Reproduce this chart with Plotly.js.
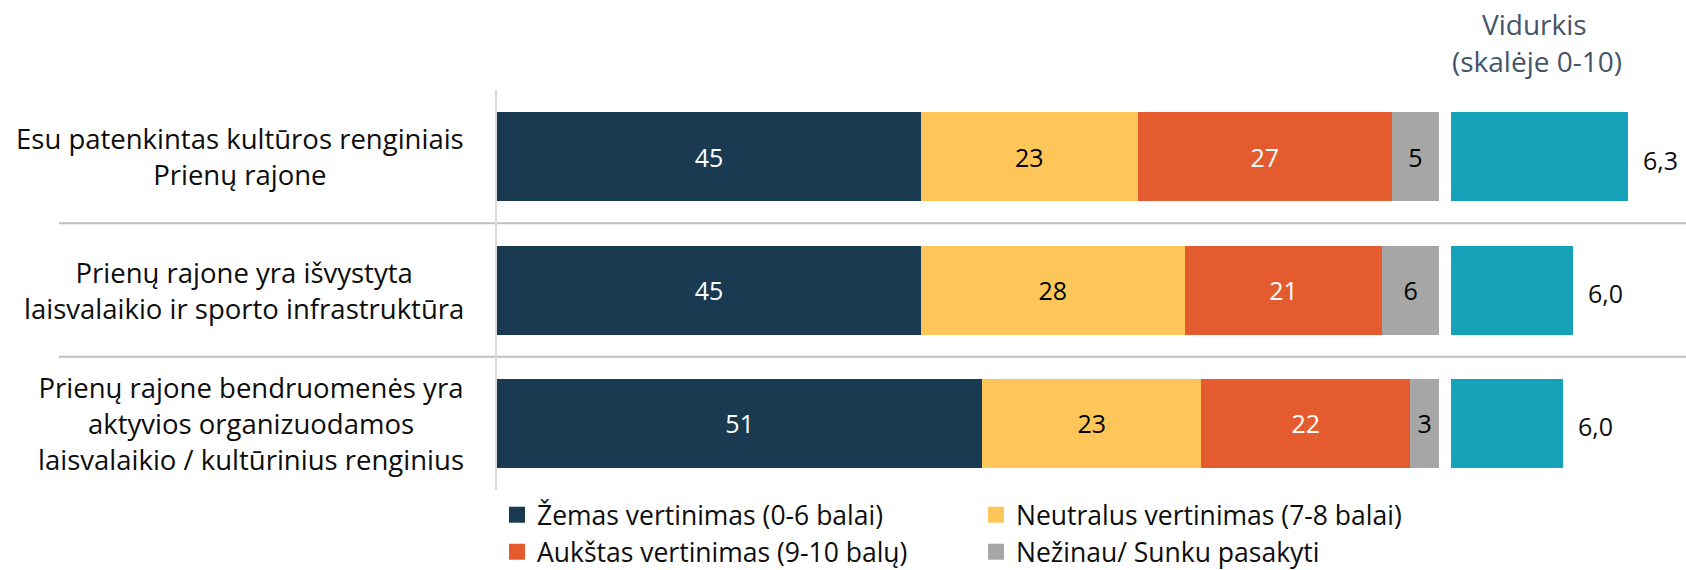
<!DOCTYPE html>
<html>
<head>
<meta charset="utf-8">
<script src="https://cdn.plot.ly/plotly-3.0.1.min.js"></script>
<style>html,body{margin:0;padding:0;background:#fff;}#chart{width:1686px;height:570px;}</style>
</head>
<body>
<div id="chart"></div>
<script>
const categories = [
  "Esu patenkintas kultūros renginiais<br>Prienų rajone",
  "Prienų rajone yra išvystyta<br>laisvalaikio ir sporto infrastruktūra",
  "Prienų rajone bendruomenės yra<br>aktyvios organizuodamos<br>laisvalaikio / kultūrinius renginius"
];
const seriesNames = [
  "Žemas vertinimas (0-6 balai)",
  "Neutralus vertinimas (7-8 balai)",
  "Aukštas vertinimas (9-10 balų)",
  "Nežinau/ Sunku pasakyti"
];
const lowScores = [45, 45, 51];
const neutralScores = [23, 28, 23];
const highScores = [27, 21, 22];
const dontKnow = [5, 6, 3];
const means = [6.28, 6.01, 5.96];
const meanTitle = ["Vidurkis", "(skalėje 0-10)"];

const colors = ["#193A50", "#FEC659", "#E55B30", "#A6A6A6"];
const textColors = ["#FFFFFF", "#000000", "#FFFFFF", "#000000"];
const meanColor = "#16A3BA";
const FONT = "Open Sans, sans-serif";

const series = [lowScores, neutralScores, highScores, dontKnow];
const totals = categories.map((_, i) => series.reduce((s, arr) => s + arr[i], 0));

const traces = [];
series.forEach((vals, k) => {
  traces.push({
    type: "bar", orientation: "h",
    x: vals.map((v, i) => v / totals[i] * 100),
    y: categories,
    text: vals.map(String),
    textposition: "inside",
    insidetextanchor: "middle",
    textfont: {family: FONT, size: 25, color: textColors[k]},
    marker: {color: colors[k]},
    name: seriesNames[k],
    showlegend: false,
    xaxis: "x", yaxis: "y",
    hoverinfo: "skip"
  });
});
traces.push({
  type: "bar", orientation: "h",
  x: means, y: categories,
  marker: {color: meanColor},
  showlegend: false,
  xaxis: "x2", yaxis: "y",
  hoverinfo: "skip"
});
// legend entries
series.forEach((vals, k) => {
  traces.push({
    type: "scatter", mode: "markers",
    x: [null], y: [null],
    marker: {symbol: "square", size: 17, color: colors[k]},
    name: seriesNames[k],
    legend: k < 2 ? "legend" : "legend2",
    xaxis: "x", yaxis: "y",
    showlegend: true
  });
});

const W = 1686;
const plotTop = 90, plotBottom = 490;
const py = px => (plotBottom - px) / (plotBottom - plotTop);

const annotations = [];
categories.forEach((c, i) => {
  annotations.push({
    xref: "paper", yref: "y", x: 466 / W, y: c,
    xanchor: "right", yanchor: "middle", align: "center",
    text: c, showarrow: false,
    font: {family: FONT, size: 27.5, color: "#0D0D0D"}
  });
  annotations.push({
    xref: "x2", yref: "y", x: means[i], y: c,
    xanchor: "left", yanchor: "middle", xshift: 13, yshift: -3,
    text: means[i].toFixed(1).replace(".", ","), showarrow: false,
    font: {family: FONT, size: 25, color: "#0D0D0D"}
  });
});
annotations.push({
  xref: "paper", yref: "paper", x: 1534 / W, y: py(24),
  xanchor: "center", yanchor: "middle", text: meanTitle[0], showarrow: false,
  font: {family: FONT, size: 28, color: "#44546A"}
});
annotations.push({
  xref: "paper", yref: "paper", x: 1537 / W, y: py(61),
  xanchor: "center", yanchor: "middle", text: meanTitle[1], showarrow: false,
  font: {family: FONT, size: 28, color: "#44546A"}
});

const shapes = [0.5, 1.5].map(v => ({
  type: "line", xref: "paper", yref: "y",
  x0: 59 / W, x1: 1, y0: v, y1: v,
  line: {color: "#C0C0C0", width: 2}, layer: "below"
}));

const legendCommon = {
  orientation: "h", xanchor: "left", yanchor: "middle",
  x: 497 / W, traceorder: "normal",
  font: {family: FONT, size: 26.5, color: "#0D0D0D"},
  entrywidth: 434, entrywidthmode: "pixels",
  bgcolor: "rgba(0,0,0,0)"
};

const meanScale = 203.7; // px per unit
const meanStart = 5.411;
const layout = {
  width: W, height: 570,
  margin: {l: 0, r: 0, t: plotTop, b: 570 - plotBottom, autoexpand: false},
  paper_bgcolor: "#FFFFFF", plot_bgcolor: "rgba(0,0,0,0)",
  barmode: "stack", bargap: 0.3325,
  showlegend: true,
  font: {family: FONT},
  xaxis: {domain: [497 / W, 1439 / W], range: [0, 100], showticklabels: false,
          showgrid: false, zeroline: false, showline: false, fixedrange: true},
  xaxis2: {domain: [1451 / W, 1], range: [meanStart, meanStart + (W - 1451) / meanScale],
           anchor: "y", showticklabels: false, showgrid: false, zeroline: false, showline: false},
  yaxis: {type: "category", categoryorder: "array", categoryarray: categories,
          range: [2.5, -0.5], showticklabels: false, showgrid: false, zeroline: false,
          showline: true, linecolor: "#D9D9D9", linewidth: 2, anchor: "x"},
  legend: Object.assign({}, legendCommon, {y: py(515)}),
  legend2: Object.assign({}, legendCommon, {y: py(552)}),
  annotations: annotations,
  shapes: shapes
};

Plotly.newPlot("chart", traces, layout, {displayModeBar: false, staticPlot: true});
</script>
</body>
</html>
